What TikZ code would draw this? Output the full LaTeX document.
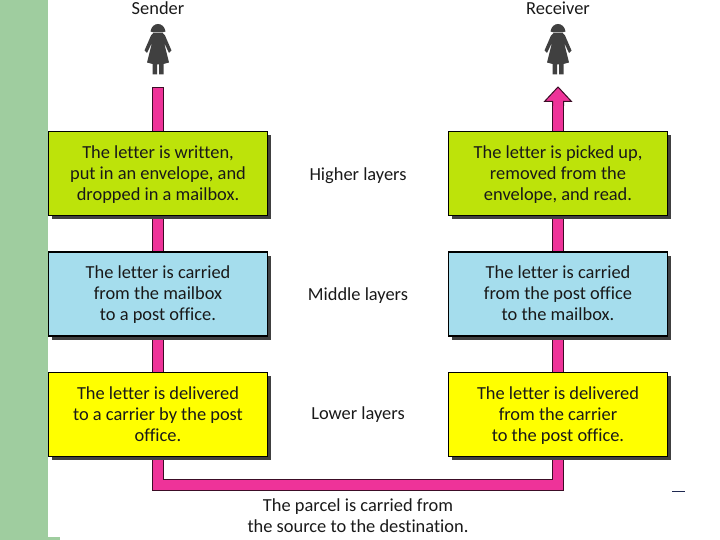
\documentclass[tikz,border=0pt]{standalone}
\usepackage{fontspec}
\setmainfont[Ligatures=NoCommon]{Carlito}
\definecolor{SideGreen}{RGB}{159,205,159}
\definecolor{LimeBox}{RGB}{189,227,10}
\definecolor{SkyBox}{RGB}{165,221,237}
\definecolor{YellowBox}{RGB}{255,255,0}
\definecolor{PipePink}{RGB}{238,51,153}
\definecolor{PersonGray}{RGB}{64,64,64}
\definecolor{DashNavy}{RGB}{30,40,80}
\usetikzlibrary{positioning,shadows,backgrounds}
\tikzset{
  person/.pic={
    \fill[PersonGray] (-7.5,32) .. controls (-6,22) and (6,22) .. (7.5,32) -- (4,33) -- (-4,33) -- cycle;
    \fill[PersonGray] (-4.5,33.5) -- (4.5,33.5) -- (7,36) -- (13.5,51) -- (11,53.5) -- (6,43) -- (11,63) -- (5.5,64.5) -- (5.5,75) -- (1,75) -- (1,65) -- (-1,65) -- (-1,75) -- (-5.5,75) -- (-5.5,64.5) -- (-11,63) -- (-6,43) -- (-11,53.5) -- (-13.5,51) -- (-7,36) -- cycle;
  }
}
\begin{document}
\begin{tikzpicture}[
    x=1pt, y=-1pt,
    node distance=35pt,
    every node/.style={font=\fontsize{18.4}{21}\selectfont, align=center, text=black!90,
      execute at begin node=\rule{0pt}{19.7pt}, execute at end node=\strut},
    layerbox/.style={draw=black, line width=1.4pt, minimum width=219pt, minimum height=84pt, inner sep=0pt,
      execute at begin node=\rule{0pt}{60pt},
      copy shadow={shadow xshift=3pt, shadow yshift=-4pt, fill=PersonGray, draw=none}},
    higher/.style={layerbox, fill=LimeBox},
    middle/.style={layerbox, fill=SkyBox},
    lower/.style={layerbox, fill=YellowBox},
    twolines/.style={execute at begin node=\rule{0pt}{39pt}},
    pipe/.style={draw=black!75!PipePink, line width=1pt, double=PipePink, double distance=10pt, line cap=rect, line join=miter},
    pipehead/.style={draw=black!75!PipePink, line width=1pt, fill=PipePink, line join=miter}
  ]
  \useasboundingbox (0,0) rectangle (720,540);
  \fill[SideGreen] (0,0) rectangle (47.5,540);
  \fill[SideGreen] (47,537) rectangle (60,540);

  % sender side
  \node (higherleft) [higher] at (158,173.5) {The letter is written,\\put in an envelope, and\\dropped in a mailbox.};
  \node (middleleft) [middle, below=of higherleft] {The letter is carried\\from the mailbox\\to a post office.};
  \node (lowerleft) [lower, below=of middleleft] {The letter is delivered\\to a carrier by the post\\office.};
  % receiver side
  \node (higherright) [higher] at (558,173.5) {The letter is picked up,\\removed from the\\envelope, and read.};
  \node (middleright) [middle, below=of higherright] {The letter is carried\\from the post office\\to the mailbox.};
  \node (lowerright) [lower, below=of middleright] {The letter is delivered\\from the carrier\\to the post office.};

  \node (sender) at (158,8) {Sender};
  \node (receiver) at (558,8) {Receiver};
  \pic at (158,-0.5) {person};
  \pic at (558,-0.5) {person};

  \node (higherlabel) at (358,174) {Higher layers};
  \node (middlelabel) at (358,294) {Middle layers};
  \node (lowerlabel) at (358,413) {Lower layers};
  \node (parcel) [twolines] at (358,516.5) {The parcel is carried from\\the source to the destination.};

  \coordinate (pipeleft) at (158,93);
  \coordinate (piperight) at (558,107);
  \coordinate (tip) at (558,87);
  \begin{scope}[on background layer]
    \draw[pipe] (pipeleft) -- (pipeleft |- 0,485) -- (piperight |- 0,485) -- (piperight);
    \draw[pipehead] (552.5,106) -- (552.5,101.5) -- (544.5,101.5) -- (tip) -- (571.5,101.5) -- (563.5,101.5) -- (563.5,106);
  \end{scope}

  \draw[DashNavy, line width=1pt] (672,491.5) -- (685,491.5);
\end{tikzpicture}
\end{document}
